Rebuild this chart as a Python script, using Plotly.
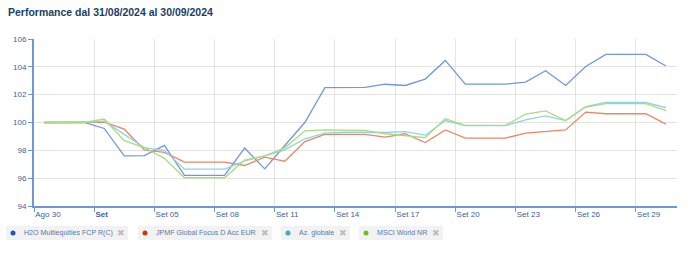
import plotly.graph_objects as go

# ---------------- data ----------------
tick_labels = ["Ago 30", "<b>Set</b>", "Set 05", "Set 08", "Set 11", "Set 14",
               "Set 17", "Set 20", "Set 23", "Set 26", "Set 29"]

series_names = ["H2O Multiequities FCP R(C)", "JPMF Global Focus D Acc EUR",
                "Az. globale", "MSCI World NR"]

h2o = [100, 100, 100, 99.57, 97.6, 97.62, 98.35, 96.2, 96.2, 96.2, 98.16, 96.67,
       98.35, 100.0, 102.5, 102.5, 102.52, 102.75, 102.66, 103.12, 104.46, 102.76,
       102.76, 102.76, 102.9, 103.72, 102.66, 104.03, 104.89, 104.89, 104.89, 104.06]
jpmf = [100, 100, 100, 100.03, 99.52, 98.03, 97.85, 97.15, 97.15, 97.15, 96.91, 97.51,
        97.22, 98.63, 99.14, 99.14, 99.15, 98.95, 99.19, 98.56, 99.47, 98.88,
        98.88, 98.88, 99.24, 99.38, 99.47, 100.75, 100.63, 100.63, 100.63, 99.88]
az_globale = [100, 100, 100, 100.1, 99.15, 98.2, 98.0, 96.65, 96.65, 96.65, 97.24, 97.6,
              98.04, 98.83, 99.24, 99.3, 99.3, 99.28, 99.35, 99.09, 100.14, 99.78,
              99.78, 99.78, 100.19, 100.48, 100.14, 101.15, 101.44, 101.44, 101.44, 101.06]
msci = [100, 100, 100, 100.25, 98.7, 98.2, 97.42, 96.03, 96.03, 96.03, 97.3, 97.6,
        98.18, 99.4, 99.47, 99.46, 99.43, 99.19, 99.04, 98.92, 100.27, 99.8,
        99.8, 99.8, 100.6, 100.84, 100.14, 101.11, 101.35, 101.35, 101.35, 100.86]

all_series = [h2o, jpmf, az_globale, msci]
line_colors = ["#7397da", "#e8876a", "#8ed3e6", "#a9dc7f"]
dot_colors = ["#1f55c5", "#c73a0c", "#3aaac6", "#6cc026"]

idx = list(range(len(h2o)))
tick_pos = [-0.5 + 3 * j for j in range(len(tick_labels))]

# ---------------- figure ----------------
W, H = 695, 277
L, R, T, B = 34, 677, 39, 206

fig = go.Figure()
for name, ys, col in zip(series_names, all_series, line_colors):
    fig.add_trace(go.Scatter(x=idx, y=ys, mode="lines", name=name,
                             line=dict(color=col, width=1.3), hoverinfo="skip"))

axis_col = "#7096d6"
label_col = "#3e5f96"
font_fam = "Liberation Sans, Arial, sans-serif"

fig.update_layout(
    width=W, height=H,
    margin=dict(l=L, r=W - R, t=T, b=H - B),
    paper_bgcolor="white", plot_bgcolor="white",
    showlegend=False,
    font=dict(family=font_fam, size=8, color=label_col),
    xaxis=dict(range=[-0.5, 31.55], tickmode="array", tickvals=tick_pos,
               ticktext=tick_labels, ticklabelposition="outside right",
               showgrid=True, gridcolor="#e3e3e3", gridwidth=1,
               showline=True, linecolor=axis_col, linewidth=1.5,
               ticks="outside", ticklen=4, tickcolor=axis_col,
               tickfont=dict(size=8, color=label_col), zeroline=False),
    yaxis=dict(range=[94, 106], tickmode="array", tickvals=[94, 96, 98, 100, 102, 104, 106],
               showgrid=True, gridcolor="#e3e3e3", gridwidth=1,
               showline=True, linecolor=axis_col, linewidth=2,
               ticks="outside", ticklen=4, tickcolor=axis_col,
               tickfont=dict(size=8, color=label_col), zeroline=False),
)

# title
fig.add_annotation(text="<b>Performance dal 31/08/2024 al 30/09/2024</b>",
                   xref="paper", yref="paper",
                   x=(6 - L) / (R - L), y=(B - 12) / (B - T),
                   xanchor="left", yanchor="middle", showarrow=False,
                   font=dict(family=font_fam, size=10.5, color="#1c3d66"))

# custom legend (boxes with dot, label and close mark)
def px_x(p):
    return (p - L) / (R - L)

def px_y(p):
    return (B - p) / (B - T)

boxes = [(6, 128), (138, 272), (281, 350), (359, 443)]
box_top, box_bot = 226, 240
cy = (box_top + box_bot) / 2
for (x0, x1), name, dcol in zip(boxes, series_names, dot_colors):
    fig.add_shape(type="rect", xref="paper", yref="paper",
                  x0=px_x(x0), x1=px_x(x1), y0=px_y(box_bot), y1=px_y(box_top),
                  fillcolor="#f2f2f2", line=dict(width=0), layer="below")
    fig.add_shape(type="circle", xref="paper", yref="paper",
                  x0=px_x(x0 + 4.5), x1=px_x(x0 + 9.5), y0=px_y(cy + 2.5), y1=px_y(cy - 2.5),
                  fillcolor=dcol, line=dict(width=0))
    fig.add_annotation(text=name, xref="paper", yref="paper",
                       x=px_x(x0 + 15.5), y=px_y(cy), xanchor="left", yanchor="middle",
                       showarrow=False, font=dict(family=font_fam, size=7.1, color="#5a78a8"))
    fig.add_annotation(text="✖", xref="paper", yref="paper",
                       x=px_x(x1 - 7), y=px_y(cy), xanchor="center", yanchor="middle",
                       showarrow=False, font=dict(family="DejaVu Sans", size=9, color="#bdbdbd"))

fig.write_html("out.html")
